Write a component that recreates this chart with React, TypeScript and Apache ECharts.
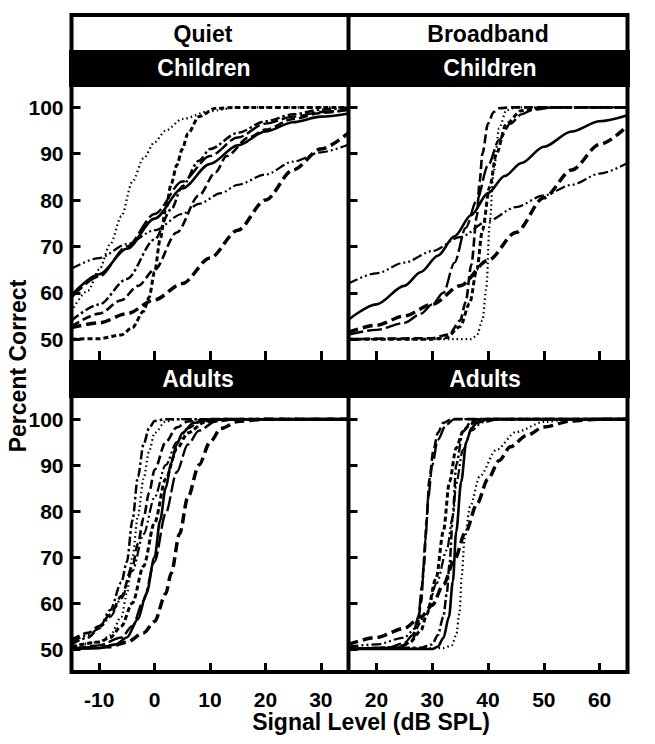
import React, { useEffect, useRef } from 'react';
import * as echarts from 'echarts';

// ---- tick values / labels ----
const quietTicks = [-10, 0, 10, 20, 30];
const broadbandTicks = [20, 30, 40, 50, 60];
const percentTicks = [50, 60, 70, 80, 90, 100];
const conditionLabels = ['Quiet', 'Broadband'];
const groupLabels = ['Children', 'Adults'];
const xTitle = 'Signal Level (dB SPL)';
const yTitle = 'Percent Correct';

// ---- Quiet, Children ----
const qcSolid = [[-15, 59.5], [-10, 64], [-5, 69.5], [0, 76], [5, 82.5], [10, 87.8], [15, 91.8], [20, 94.8], [25, 96.8], [30, 98], [35, 98.7]];
const qcDotted = [[-15, 56], [-12, 60.5], [-10, 65], [-8, 70.5], [-6, 76.5], [-4, 84], [-2, 89], [0, 92.5], [2, 95], [5, 97.5], [10, 99.2], [15, 100], [35, 100]];
const qcShortDash = [[-15, 50], [-10, 50.1], [-6, 50.9], [-4, 52.5], [-2, 56], [-1, 59], [0, 64.5], [1, 71.5], [2, 78], [3, 83.5], [4, 87.5], [5, 91], [6, 94.3], [8, 98], [11, 99.8], [15, 100], [35, 100]];
const qcLongDash = [[-15, 59], [-10, 63.5], [-5, 70], [0, 77], [5, 84], [10, 89.5], [15, 93.5], [20, 96.5], [25, 98], [30, 99], [35, 99.5]];
const qcMediumDash = [[-15, 52.7], [-10, 55.5], [-6, 58.4], [-3, 61.5], [0, 65], [4, 73], [8, 81], [11, 86], [13, 89.5], [17, 93.5], [20, 95.2], [25, 97.5], [30, 98.8], [35, 99.5]];
const qcDashDot = [[-15, 54], [-10, 57.5], [-5, 63], [0, 71.5], [3, 78], [5, 83], [8, 88.5], [10, 91], [15, 94.5], [20, 97], [25, 98.5], [30, 99.5], [35, 100]];
const qcDashDotDot = [[-15, 65.2], [-10, 67.5], [-5, 70.5], [0, 73.5], [5, 77], [8, 79.2], [12, 81.5], [15, 83.3], [20, 85.5], [25, 88.3], [30, 90.3], [35, 92]];
const qcBigDash = [[-15, 52.5], [-10, 53.5], [-5, 55.5], [0, 58.5], [5, 62], [10, 67.5], [15, 73.5], [20, 80], [25, 86.5], [30, 91], [35, 94.5]];

// ---- Broadband, Children ----
const bcSolid = [[15, 54.2], [20, 57.5], [25, 61.5], [28, 64.5], [31, 68], [34, 72.2], [37, 76.8], [40, 81.5], [43, 85.2], [46, 88], [50, 91.5], [55, 94.8], [60, 97], [65, 98.3]];
const bcDashDotDot = [[15, 62], [20, 64.2], [25, 66.5], [30, 69], [35, 72], [40, 75.5], [45, 78.5], [50, 81], [55, 83.3], [60, 85.7], [65, 88]];
const bcBigDash = [[15, 51.5], [20, 53], [25, 55], [30, 57.5], [35, 61.5], [40, 67], [45, 73], [50, 80.5], [55, 86.5], [60, 92], [65, 96]];
const bcMediumDash = [[15, 50], [30, 50.2], [33, 51], [35, 54], [36, 58], [37, 66], [38, 76.5], [38.5, 84], [39, 90], [40, 96.5], [41, 99], [42, 99.8], [44, 100], [65, 100]];
const bcLongDash = [[15, 51], [20, 52], [25, 53.5], [28, 55.5], [30, 57.5], [32, 60], [34, 66.5], [36, 74], [38, 80], [40, 87.5], [42, 93], [44, 96.5], [46, 98.5], [48, 99.5], [52, 100], [65, 100]];
const bcShortDash = [[15, 50], [30, 50], [32.5, 50.3], [35, 52.7], [36.7, 57.7], [38, 65], [39, 73.5], [40.3, 82.8], [41.5, 90], [43.3, 96.5], [46, 99.3], [50, 100], [65, 100]];
const bcDotted = [[15, 50], [37, 50], [38, 50.8], [39, 54], [39.7, 61], [40.3, 75], [41, 86], [42, 95.5], [43.3, 99.4], [45, 100], [65, 100]];

// ---- Quiet, Adults ----
const qaDashDot = [[-15, 51], [-12, 52.5], [-10, 54.5], [-8, 58.5], [-6, 64.5], [-5, 69], [-4, 78], [-3, 87.5], [-2, 94.5], [-1, 98], [0, 99.6], [2, 100], [35, 100]];
const qaDotted = [[-15, 50.5], [-10, 51.5], [-8, 53], [-6, 57], [-5, 62], [-4, 70], [-3, 79], [-2, 87], [-1, 93], [0, 97], [2, 99.5], [4, 100], [35, 100]];
const qaMediumDash = [[-15, 52], [-12, 53.5], [-10, 55], [-8, 57.5], [-6, 61.5], [-4, 68], [-3, 73], [-2, 78.5], [-1, 84], [0, 89], [2, 95], [4, 98.2], [6, 99.5], [10, 100], [35, 100]];
const qaDashDotDot = [[-15, 51.5], [-12, 53], [-10, 54.5], [-8, 57], [-6, 61], [-4, 67], [-2, 75], [0, 83], [2, 90], [4, 95], [6, 98], [8, 99.3], [12, 100], [35, 100]];
const qaShortDash = [[-15, 50.5], [-10, 51.5], [-8, 52.5], [-6, 55], [-4, 60], [-2, 68], [0, 77.5], [2, 87], [4, 93.5], [6, 97], [9, 99.3], [12, 100], [35, 100]];
const qaLongDash = [[-15, 50], [-10, 50.8], [-6, 52.5], [-4, 55], [-2, 60.5], [0, 69], [2, 79.5], [4, 88.5], [6, 94.5], [8, 97.5], [11, 99.5], [15, 100], [35, 100]];
const qaSolid = [[-15, 50], [-10, 50.2], [-7, 51], [-5, 52.5], [-3, 56.5], [-1.5, 62], [0, 70], [1, 78], [2, 85], [3, 90.5], [4, 94.5], [5, 97], [7, 99.2], [10, 99.9], [35, 100]];
const qaBigDash = [[-15, 50], [-8, 50.5], [-5, 51.5], [-2, 53.5], [0, 56], [2, 62], [3, 66.5], [4.5, 75], [6, 83], [8, 90], [10, 95], [12, 98], [15, 99.5], [20, 100], [35, 100]];

// ---- Broadband, Adults ----
const baSolid = [[15, 50], [30, 50], [31, 50.5], [32, 52.4], [33, 57], [33.7, 64.7], [34.3, 75.5], [35.2, 86.4], [36.1, 95], [37, 98], [38, 99.2], [40, 100], [65, 100]];
const baDotted = [[15, 50], [32, 50.2], [33.5, 50.8], [34.3, 53], [34.9, 58], [35.3, 66], [35.8, 74], [36.8, 81], [38.5, 87.5], [41.5, 93.3], [45, 97.2], [50, 99.4], [55, 100], [65, 100]];
const baBigDash = [[15, 51], [20, 52.5], [25, 54.5], [28, 57], [30, 59.5], [32, 64], [34, 69.5], [36, 75.5], [38, 81.5], [40, 87], [42, 91], [44, 94], [47, 96.5], [50, 98.3], [55, 99.6], [60, 100], [65, 100]];
const baMediumDash = [[15, 50], [22, 50.2], [25, 50.8], [26.5, 52], [27.3, 54.5], [28, 60], [28.5, 68], [29, 78], [29.5, 87], [30.2, 93], [31, 97], [32, 99.2], [33.5, 100], [65, 100]];
const baLongDash = [[15, 50], [22, 50.3], [25, 51.3], [26.5, 53], [27.5, 57], [28.2, 64], [28.8, 74], [29.3, 83], [30, 90], [31, 95.5], [32.5, 98.8], [34, 100], [65, 100]];
const baShortDash = [[15, 50], [24, 50.3], [26, 51.5], [28, 54], [29, 57.5], [30.7, 65.4], [32, 75.6], [33.1, 86.4], [34.3, 93.7], [35.5, 97.3], [36.7, 98.8], [38, 99.7], [40, 100], [65, 100]];
const baDashDot = [[15, 50], [28, 50.3], [30, 51], [31, 53], [32, 57], [32.6, 62], [33.1, 68.3], [33.7, 79.2], [34.3, 90], [35.5, 97.3], [37, 99.5], [39, 100], [65, 100]];
const baDashDotDot = [[15, 50.5], [20, 51], [25, 52.5], [27, 54.5], [29, 57.8], [30.8, 64.3], [32.6, 71.5], [33.7, 78.8], [34.3, 86], [35.5, 93.3], [37, 97.5], [39, 99.3], [42, 100], [65, 100]];

// ---- styles (kept apart from the data) ----
const STYLES: Record<string, { type: any; width: number }> = {
  solid: { type: 'solid', width: 2.6 },
  dotted: { type: [1.5, 3], width: 2.2 },
  shortDash: { type: [5, 3], width: 3 },
  mediumDash: { type: [9, 4], width: 2.6 },
  longDash: { type: [15, 4], width: 2.4 },
  bigDash: { type: [10, 5], width: 3.5 },
  dashDot: { type: [9, 3, 2.5, 3], width: 2.5 },
  dashDotDot: { type: [10, 3, 2, 3, 2, 3], width: 2.2 },
};

const panelCurves: [number[][], string][][] = [
  [[qcSolid, 'solid'], [qcDotted, 'dotted'], [qcShortDash, 'shortDash'], [qcLongDash, 'longDash'], [qcMediumDash, 'mediumDash'], [qcDashDot, 'dashDot'], [qcDashDotDot, 'dashDotDot'], [qcBigDash, 'bigDash']],
  [[bcSolid, 'solid'], [bcDashDotDot, 'dashDotDot'], [bcBigDash, 'bigDash'], [bcMediumDash, 'mediumDash'], [bcLongDash, 'longDash'], [bcShortDash, 'shortDash'], [bcDotted, 'dotted']],
  [[qaDashDot, 'dashDot'], [qaDotted, 'dotted'], [qaMediumDash, 'mediumDash'], [qaDashDotDot, 'dashDotDot'], [qaShortDash, 'shortDash'], [qaLongDash, 'longDash'], [qaSolid, 'solid'], [qaBigDash, 'bigDash']],
  [[baSolid, 'solid'], [baDotted, 'dotted'], [baBigDash, 'bigDash'], [baMediumDash, 'mediumDash'], [baLongDash, 'longDash'], [baShortDash, 'shortDash'], [baDashDot, 'dashDot'], [baDashDotDot, 'dashDotDot']],
];

const FONT = '"Liberation Sans", Arial, Helvetica, sans-serif';

export default function App() {
  const ref = useRef<HTMLDivElement>(null);
  useEffect(() => {
    if (!ref.current) return;
    const chart = echarts.init(ref.current, undefined, { renderer: 'svg' });

    const L = 71.5, M = 348.5, R = 627.5;
    const grids = [
      { left: L, top: 87, width: M - L, height: 273 },
      { left: M, top: 87, width: R - M, height: 273 },
      { left: L, top: 398, width: M - L, height: 274 },
      { left: M, top: 398, width: R - M, height: 274 },
    ];
    const yRanges = [[45.5, 104.4], [45.5, 104.4], [45, 104.6], [45, 104.6]];
    const xRanges = [[-15, 35], [15, 65], [-15, 35], [15, 65]];
    const xTickSets = [quietTicks, broadbandTicks, quietTicks, broadbandTicks];

    const labelStyle = { color: '#000', fontSize: 21, fontWeight: 'bold' as const, fontFamily: FONT };
    const tickLine = { color: '#000', width: 3 };

    const xAxis = grids.map((_, i) => ({
      type: 'value',
      gridIndex: i,
      z: 110,
      min: xRanges[i][0],
      max: xRanges[i][1],
      axisLine: { show: false, onZero: false },
      splitLine: { show: false },
      axisTick: { show: true, inside: true, length: 9, lineStyle: tickLine, customValues: xTickSets[i] },
      axisLabel: { show: i >= 2, customValues: xTickSets[i], margin: 17, ...labelStyle },
    }));
    const yAxis = grids.map((_, i) => ({
      type: 'value',
      gridIndex: i,
      z: 110,
      min: yRanges[i][0],
      max: yRanges[i][1],
      axisLine: { show: false, onZero: false },
      splitLine: { show: false },
      axisTick: { show: true, inside: true, length: 9, lineStyle: tickLine, customValues: percentTicks },
      axisLabel: { show: i % 2 === 0, customValues: percentTicks, margin: 8, ...labelStyle },
    }));

    const series: any[] = [];
    panelCurves.forEach((curves, p) => {
      curves.forEach(([data, style]) => {
        const s = STYLES[style];
        series.push({
          type: 'line',
          xAxisIndex: p,
          yAxisIndex: p,
          data,
          showSymbol: false,
          symbol: 'none',
          smooth: 0.3,
          smoothMonotone: 'x',
          silent: true,
          z: 3,
          lineStyle: { color: '#000', width: s.width, type: s.type, cap: 'butt' },
        });
      });
    });

    const textStyle = (text: string, fill: string, size = 23) => ({
      text,
      fill,
      font: `bold ${size}px ${FONT}`,
      textAlign: 'center',
      textVerticalAlign: 'middle',
      verticalAlign: 'middle',
    });

    const graphic: any[] = [
      { type: 'rect', z: 100, shape: { x: 69, y: 50, width: 561, height: 37 }, style: { fill: '#000' } },
      { type: 'rect', z: 100, shape: { x: 69, y: 360, width: 561, height: 38 }, style: { fill: '#000' } },
      { type: 'rect', z: 100, shape: { x: L, y: 15, width: R - L, height: 657 }, style: { fill: 'none', stroke: '#000', lineWidth: 4 } },
      { type: 'line', z: 100, shape: { x1: M, y1: 15, x2: M, y2: 672 }, style: { stroke: '#000', lineWidth: 4 } },
      { type: 'text', z: 101, x: 203, y: 34, style: textStyle(conditionLabels[0], '#000') },
      { type: 'text', z: 101, x: 488, y: 34, style: textStyle(conditionLabels[1], '#000') },
      { type: 'text', z: 101, x: 204, y: 68, style: textStyle(groupLabels[0], '#fff') },
      { type: 'text', z: 101, x: 490, y: 68, style: textStyle(groupLabels[0], '#fff') },
      { type: 'text', z: 101, x: 198, y: 379, style: textStyle(groupLabels[1], '#fff') },
      { type: 'text', z: 101, x: 485, y: 379, style: textStyle(groupLabels[1], '#fff') },
      { type: 'text', z: 101, x: 371, y: 722, style: textStyle(xTitle, '#000') },
      { type: 'text', z: 101, x: 18, y: 366, rotation: Math.PI / 2, style: textStyle(yTitle, '#000') },
    ];

    chart.setOption({
      animation: false,
      backgroundColor: '#fff',
      grid: grids,
      xAxis,
      yAxis,
      series,
      graphic,
    });
    return () => chart.dispose();
  }, []);

  return (
    <div
      ref={ref}
      style={{ position: 'fixed', left: 0, top: 0, width: 655, height: 744, background: '#fff' }}
    />
  );
}
